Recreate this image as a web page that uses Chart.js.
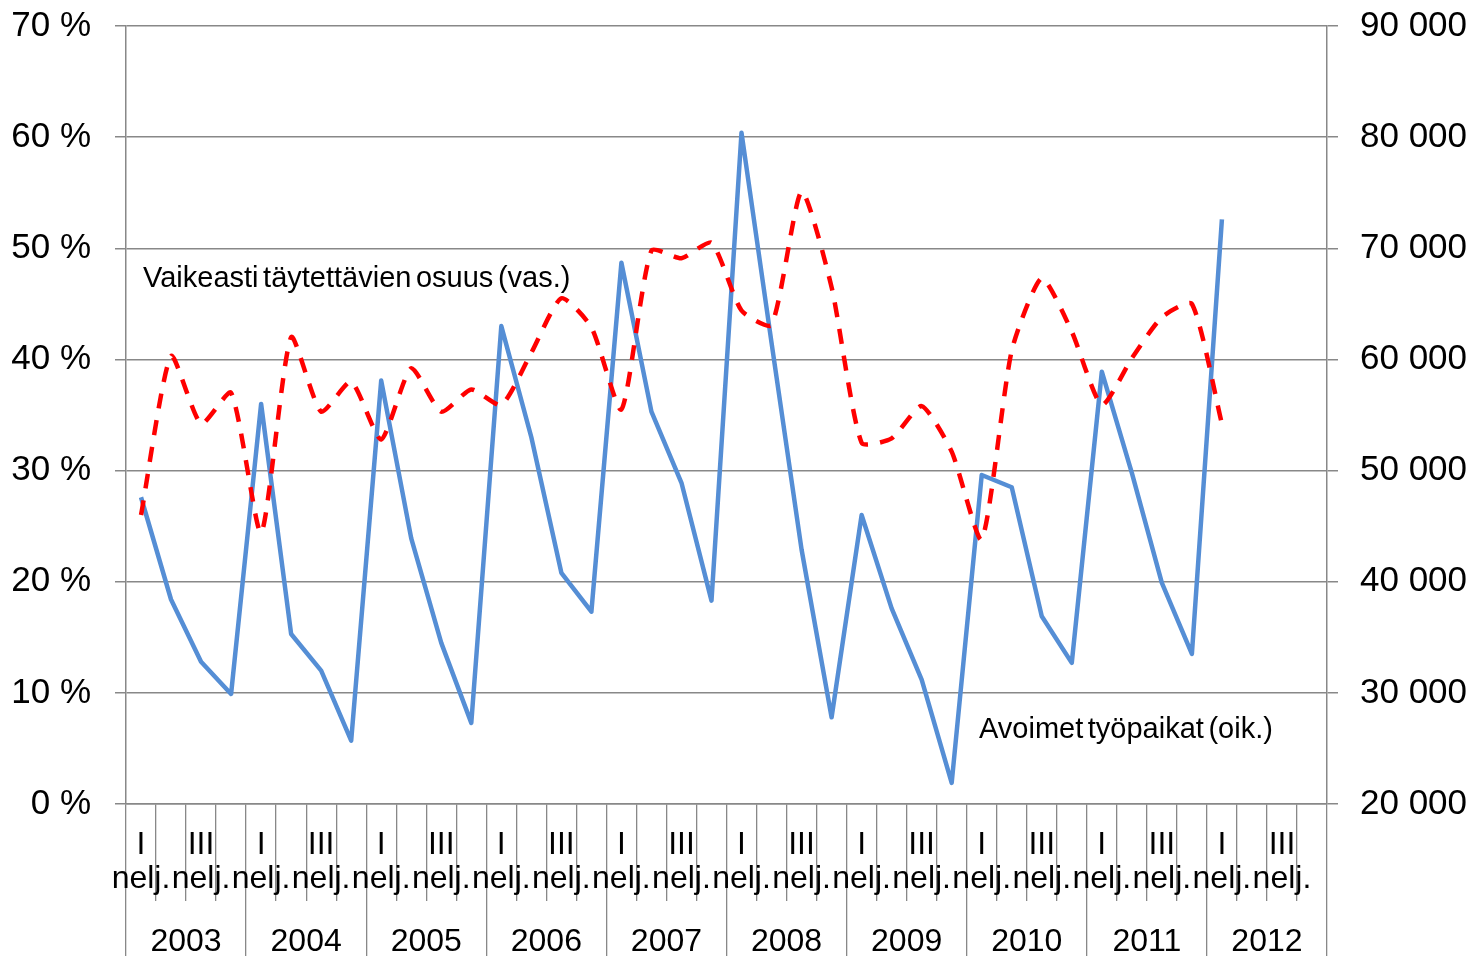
<!DOCTYPE html>
<html>
<head>
<meta charset="utf-8">
<script src="https://cdn.jsdelivr.net/npm/chart.js@4.4.1/dist/chart.umd.min.js"></script>
<style>
html,body{margin:0;padding:0;background:#fff;}
canvas{display:block;}
</style>
</head>
<body>
<canvas id="c" width="1471" height="956"></canvas>
<script>
// ---- data ----
const years = ['2003','2004','2005','2006','2007','2008','2009','2010','2011','2012'];
const quarterNames = [['I','nelj.'], '', ['III','nelj.'], ''];
// Vaikeasti täytettävien osuus (%), left axis
const osuusVas = [26.0, 40.3, 34.2, 37.0, 24.4, 42.0, 35.3, 38.0, 32.8, 39.2,
                  35.3, 37.3, 35.9, 40.6, 45.5, 42.9, 35.5, 49.8, 49.1, 50.5,
                  44.4, 43.1, 55.1, 46.5, 32.5, 32.9, 35.8, 31.7, 23.8, 40.8,
                  47.3, 42.5, 35.9, 40.1, 43.8, 45.0, 34.2];
// Avoimet työpaikat, right axis
const avoimetOik = [47600, 38400, 32800, 29900, 56000, 35300, 32000, 25700, 58100, 43900,
                    34500, 27300, 63000, 53000, 40800, 37300, 68700, 55300, 48900, 38300,
                    80400, 61500, 42900, 27800, 46000, 37600, 31200, 21900, 49600, 48500,
                    36900, 32700, 58900, 49800, 39900, 33500, 72600];
const leftTicks = [0, 70, 10];
const rightTicks = [20000, 90000, 10000];
const seriesNames = ['Vaikeasti täytettävien osuus (vas.)', 'Avoimet työpaikat (oik.)'];

// categories table built from the arrays above
const categories = [];
years.forEach(() => quarterNames.forEach(q => categories.push(q)));

const FONT = '"Liberation Sans", Arial, sans-serif';
const gridColor = '#888888';
const fmtThousands = v => String(v).replace(/\B(?=(\d{3})+(?!\d))/g, ' ');

const annotations = {
  id: 'annotations',
  afterDraw(chart) {
    const ctx = chart.ctx;
    ctx.save();
    ctx.fillStyle = '#000';
    ctx.font = '29px ' + FONT;
    ctx.textBaseline = 'alphabetic';
    ctx.textAlign = 'left';
    try { ctx.wordSpacing = '-3.5px'; } catch (e) {}
    ctx.fillText(seriesNames[0], 143, 287);
    ctx.fillText(seriesNames[1], 979, 738);
    ctx.restore();
  }
};

function noVPad(s, w) {
  s.width = w;
  s.paddingTop = 0;
  s.paddingBottom = 0;
}

new Chart(document.getElementById('c'), {
  type: 'line',
  data: {
    labels: categories,
    datasets: [
      {
        label: seriesNames[0],
        data: osuusVas,
        yAxisID: 'y',
        xAxisID: 'x',
        borderColor: '#ff0000',
        borderWidth: 4.5,
        borderDash: [15, 12],
        borderCapStyle: 'butt',
        tension: 0.2,
        pointRadius: 0,
        fill: false
      },
      {
        label: seriesNames[1],
        data: avoimetOik,
        yAxisID: 'y1',
        xAxisID: 'x',
        borderColor: '#558ed5',
        borderWidth: 4.5,
        borderJoinStyle: 'round',
        tension: 0,
        pointRadius: 0,
        fill: false
      }
    ]
  },
  options: {
    responsive: false,
    animation: false,
    events: [],
    layout: { padding: { top: 26, left: 0, right: 0, bottom: 0 } },
    plugins: { legend: { display: false }, tooltip: { enabled: false } },
    scales: {
      x: {
        type: 'category',
        position: 'bottom',
        weight: 0,
        offset: true,
        grid: { display: true, drawOnChartArea: false, drawTicks: true, tickLength: 97, color: gridColor, lineWidth: 1.3, offset: true },
        border: { display: true, color: gridColor, width: 1.5 },
        ticks: { autoSkip: false, maxRotation: 0, minRotation: 0, padding: 23.7 - 97, color: '#000',
                 font: { family: FONT, size: 32, lineHeight: 1.08 } },
        afterFit(s) { s.height = 97; }
      },
      xYear: {
        type: 'category',
        labels: years,
        position: 'bottom',
        weight: 1,
        offset: true,
        grid: { display: true, drawOnChartArea: false, drawTicks: true, tickLength: 55, color: gridColor, lineWidth: 1.3, offset: true },
        border: { display: false },
        ticks: { autoSkip: false, maxRotation: 0, minRotation: 0, padding: -33.2, color: '#000',
                 font: { family: FONT, size: 32, lineHeight: 1.2 } },
        afterFit(s) { s.height = 55; }
      },
      y: {
        type: 'linear',
        position: 'left',
        min: leftTicks[0], max: leftTicks[1],
        grid: { color: gridColor, lineWidth: 1.5, drawTicks: true, tickLength: 11 },
        border: { display: true, color: gridColor, width: 1.5 },
        ticks: { stepSize: leftTicks[2], padding: 24, color: '#000',
                 font: { family: FONT, size: 35 },
                 callback: v => v + ' %' },
        afterFit(s) { noVPad(s, 126); }
      },
      y1: {
        type: 'linear',
        position: 'right',
        min: rightTicks[0], max: rightTicks[1],
        grid: { drawOnChartArea: false, color: gridColor, lineWidth: 1.5, drawTicks: true, tickLength: 11 },
        border: { display: true, color: gridColor, width: 1.5 },
        ticks: { stepSize: rightTicks[2], padding: 22, color: '#000',
                 font: { family: FONT, size: 35 },
                 callback: v => fmtThousands(v) },
        afterFit(s) { noVPad(s, 144); }
      }
    }
  },
  plugins: [annotations]
});
</script>
</body>
</html>
